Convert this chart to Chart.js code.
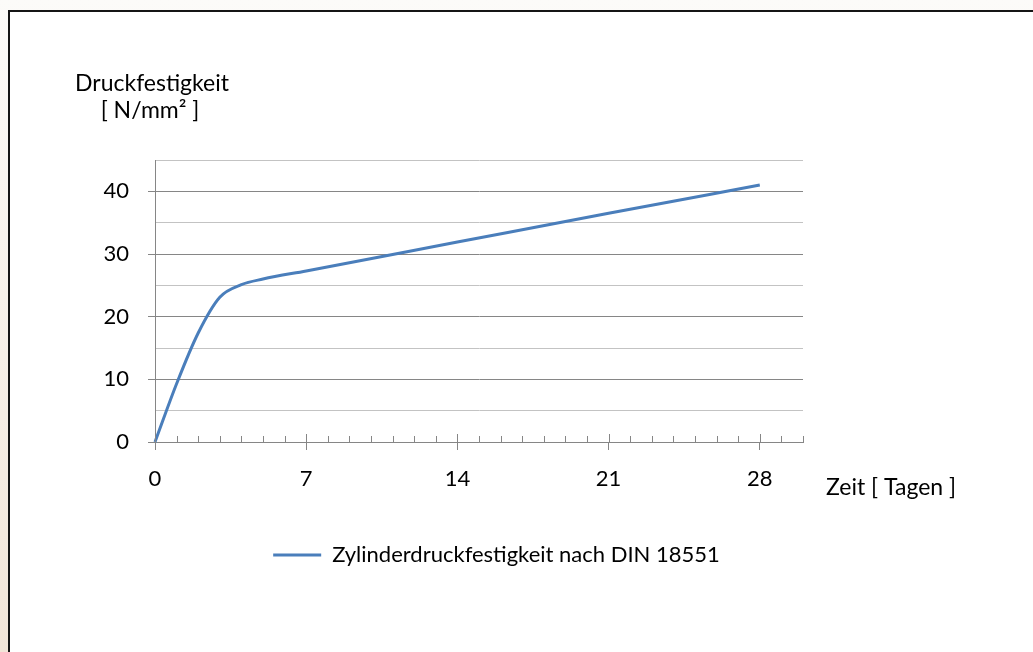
<!DOCTYPE html>
<html>
<head>
<meta charset="utf-8">
<script src="https://cdn.jsdelivr.net/npm/chart.js@4/dist/chart.umd.min.js"></script>
<style>
  html, body { margin: 0; padding: 0; }
  body {
    width: 1033px; height: 652px; overflow: hidden; position: relative;
    background: linear-gradient(to bottom, #fcfbf9, #f1e5d8);
  }
  #frame {
    position: absolute; left: 8px; top: 10px; width: 1200px; height: 800px;
    background: #fff; border-left: 2px solid #151515; border-top: 2px solid #151515;
  }
  #myChart { position: absolute; left: 0; top: 0; }
</style>
</head>
<body>
<div id="frame"></div>
<canvas id="myChart" width="1033" height="652"></canvas>
<script>
// Tage / Druckfestigkeit (N/mm²)
const days = [0, 1, 2, 3, 4, 5, 7, 14, 21, 28]
const strength = [0, 9.3, 17.4, 23.1, 25.1, 26.0, 27.3, 31.9, 36.5, 41.0]
const xTicksLabeled = [0, 7, 14, 21, 28]
const yTicksLabeled = [0, 10, 20, 30, 40]
const seriesName = 'Zylinderdruckfestigkeit nach DIN 18551'
const yTitle = ['Druckfestigkeit', '[ N/mm² ]']
const xTitle = 'Zeit [ Tagen ]'

const major = '#868686'
const minor = '#c3c3c3'
const blue = '#4a7ebb'

Chart.defaults.font.family = 'Lato'
Chart.defaults.font.size = 22
Chart.defaults.color = '#000'

const extras = {
    id: 'extras',
    afterDraw(chart) {
        const ctx = chart.ctx
        const x = chart.scales.x
        const area = chart.chartArea
        ctx.save()
        // small tick marks inside the plot (major ones cross the axis)
        ctx.strokeStyle = major
        ctx.lineWidth = 1
        x.ticks.forEach(t => {
            const px = Math.round(x.getPixelForValue(t.value)) + 0.5
            const len = xTicksLabeled.includes(t.value) ? 8 : 6
            ctx.beginPath()
            ctx.moveTo(px, area.bottom - len)
            ctx.lineTo(px, area.bottom)
            ctx.stroke()
        })
        // axis titles
        ctx.fillStyle = '#000'
        ctx.font = '23px Lato'
        ctx.textBaseline = 'middle'
        ctx.textAlign = 'center'
        ctx.fillText(yTitle[0], area.left - 3, area.top - 76)
        ctx.fillText(yTitle[1], area.left - 5, area.top - 49)
        ctx.textAlign = 'left'
        ctx.fillText(xTitle, area.right + 23, area.bottom + 46)
        ctx.restore()
    }
}

new Chart(document.getElementById('myChart').getContext('2d'), {
    type: 'line',
    data: {
        datasets: [{
            label: seriesName,
            data: days.map((d, i) => ({ x: d, y: strength[i] })),
            borderColor: blue,
            backgroundColor: blue,
            borderWidth: 3,
            pointRadius: 0,
            cubicInterpolationMode: 'monotone',
            yAxisID: 'y',
            clip: false
        }]
    },
    options: {
        responsive: false,
        animation: false,
        layout: { padding: { left: 0, top: 160, right: 40, bottom: 76 } },
        scales: {
            x: {
                type: 'linear',
                min: 0,
                max: 30,
                afterFit: s => { s.height = 92 },
                ticks: {
                    stepSize: 1,
                    autoSkip: false,
                    maxRotation: 0,
                    padding: 16,
                    callback: v => xTicksLabeled.includes(v) ? v : ''
                },
                grid: {
                    drawOnChartArea: false,
                    tickLength: 8,
                    tickColor: c => xTicksLabeled.includes(c.tick.value) ? major : 'rgba(0,0,0,0)'
                },
                border: { color: major, width: 1 }
            },
            y: {
                min: 0,
                max: 45,
                afterFit: s => { s.width = 155 },
                ticks: {
                    stepSize: 5,
                    padding: 19,
                    callback: v => yTicksLabeled.includes(v) ? v : ''
                },
                grid: {
                    color: c => yTicksLabeled.includes(c.tick.value) ? major : minor,
                    tickLength: 7,
                    tickColor: c => yTicksLabeled.includes(c.tick.value) ? major : 'rgba(0,0,0,0)'
                },
                border: { color: major, width: 1 }
            },
            // empty right box so the plot stops at day 30 while the legend stays centred
            spacer: {
                position: 'right',
                axis: 'y',
                afterFit: s => { s.width = 190 },
                ticks: { display: false },
                grid: { display: false },
                border: { display: false }
            }
        },
        plugins: {
            tooltip: { enabled: false },
            legend: {
                position: 'bottom',
                labels: {
                    boxWidth: 48,
                    boxHeight: 3,
                    padding: 10,
                    generateLabels: chart => Chart.defaults.plugins.legend.labels.generateLabels(chart)
                        .map(l => ({ ...l, lineWidth: 0 }))
                }
            }
        }
    },
    plugins: [extras]
});
</script>
</body>
</html>
